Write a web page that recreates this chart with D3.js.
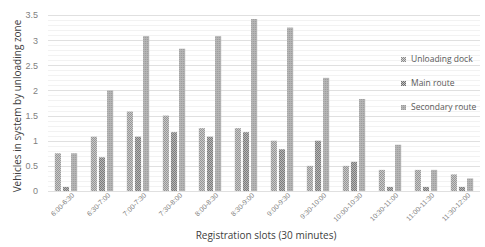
<!DOCTYPE html>
<html>
<head>
<meta charset="utf-8">
<script src="https://cdn.jsdelivr.net/npm/d3@7"></script>
<style>
  body { margin: 0; background: #fff; }
  svg { font-family: "Open Sans", "Liberation Sans", sans-serif; }
</style>
</head>
<body>
<div id="chart"></div>
<script>
(function() {
    const width = 485, height = 247;

    const slots = ["6:00-6:30", "6:30-7:00", "7:00-7:30", "7:30-8:00", "8:00-8:30", "8:30-9:00",
        "9:00-9:30", "9:30-10:00", "10:00-10:30", "10:30-11:00", "11:00-11:30", "11:30-12:00"];
    const seriesNames = ["Unloading dock", "Main route", "Secondary route"];
    const unloadingDock = [0.75, 1.08, 1.58, 1.5, 1.25, 1.25, 1.0, 0.5, 0.5, 0.42, 0.42, 0.33];
    const mainRoute = [0.08, 0.67, 1.08, 1.17, 1.08, 1.17, 0.83, 1.0, 0.58, 0.08, 0.08, 0.08];
    const secondaryRoute = [0.75, 2.0, 3.08, 2.83, 3.08, 3.42, 3.25, 2.25, 1.83, 0.92, 0.42, 0.25];
    const yTicks = [0, 0.5, 1, 1.5, 2, 2.5, 3, 3.5];

    const values = [unloadingDock, mainRoute, secondaryRoute];

    const margin = { top: 15, right: 5, bottom: 56, left: 48 };
    const innerW = width - margin.left - margin.right;
    const innerH = height - margin.top - margin.bottom;

    const svg = d3.select("#chart")
        .append("svg")
        .attr("width", width)
        .attr("height", height);

    // hatch fills, one per series
    const defs = svg.append("defs");
    const p0 = defs.append("pattern").attr("id", "pat0")
        .attr("width", 2).attr("height", 2).attr("patternUnits", "userSpaceOnUse");
    p0.append("rect").attr("width", 2).attr("height", 2).attr("fill", "#d4d4d4");
    p0.append("rect").attr("width", 1).attr("height", 1).attr("fill", "#8a8a8a");
    p0.append("rect").attr("x", 1).attr("y", 1).attr("width", 1).attr("height", 1).attr("fill", "#8a8a8a");

    const p1 = defs.append("pattern").attr("id", "pat1")
        .attr("width", 2).attr("height", 2).attr("patternUnits", "userSpaceOnUse");
    p1.append("rect").attr("width", 2).attr("height", 2).attr("fill", "#c4c4c4");
    p1.append("rect").attr("width", 1).attr("height", 1).attr("fill", "#6e6e6e");
    p1.append("rect").attr("x", 1).attr("y", 1).attr("width", 1).attr("height", 1).attr("fill", "#6e6e6e");

    const p2 = defs.append("pattern").attr("id", "pat2")
        .attr("width", 2).attr("height", 2).attr("patternUnits", "userSpaceOnUse");
    p2.append("rect").attr("width", 2).attr("height", 2).attr("fill", "#b5b5b5");
    p2.append("rect").attr("width", 1).attr("height", 1).attr("fill", "#9a9a9a");

    const g = svg.append("g").attr("transform", `translate(${margin.left},${margin.top})`);

    const x0 = d3.scaleBand().domain(slots).range([0, innerW]).paddingInner(0.38).paddingOuter(0.19);
    const x1 = d3.scaleBand().domain(d3.range(3)).range([0, x0.bandwidth()]).paddingInner(0.25);
    const y = d3.scaleLinear().domain([0, 3.5]).range([innerH, 0]);

    // minor gridlines
    g.append("g").selectAll("line")
        .data(d3.range(0, 3.5, 0.1).filter(v => Math.abs(v * 2 - Math.round(v * 2)) > 1e-6))
        .join("line")
        .attr("x1", 0).attr("x2", innerW)
        .attr("y1", d => Math.round(y(d)) + 0.5).attr("y2", d => Math.round(y(d)) + 0.5)
        .attr("stroke", "#f2f2f2");

    // major gridlines
    g.append("g").selectAll("line")
        .data(yTicks)
        .join("line")
        .attr("x1", 0).attr("x2", innerW)
        .attr("y1", d => Math.round(y(d)) + 0.5).attr("y2", d => Math.round(y(d)) + 0.5)
        .attr("stroke", "#e0e0e0");

    const yAxis = g.append("g")
        .call(d3.axisLeft(y).tickValues(yTicks).tickSize(0).tickPadding(10).tickFormat(d3.format("~g")));
    yAxis.select(".domain").remove();
    yAxis.selectAll("text").attr("fill", "#7f7f7f").style("font-size", "9px");

    const groups = g.append("g").selectAll("g")
        .data(slots)
        .join("g")
        .attr("transform", d => `translate(${x0(d)},0)`);

    groups.selectAll("rect")
        .data((d, i) => values.map((s, k) => ({ k: k, v: s[i] })))
        .join("rect")
        .attr("x", d => x1(d.k))
        .attr("width", x1.bandwidth())
        .attr("y", d => y(d.v))
        .attr("height", d => innerH - y(d.v))
        .attr("fill", d => `url(#pat${d.k})`);

    const xAxis = g.append("g")
        .attr("transform", `translate(0,${innerH})`)
        .call(d3.axisBottom(x0).tickSize(0).tickPadding(6));
    xAxis.select(".domain").remove();
    xAxis.selectAll("text")
        .attr("fill", "#7f7f7f")
        .style("font-size", "7px")
        .attr("text-anchor", "end")
        .attr("dx", "0.4em")
        .attr("dy", "0.5em")
        .attr("transform", "rotate(-45)");

    svg.append("text")
        .attr("transform", `translate(21,${margin.top + innerH / 2 + 3}) rotate(-90)`)
        .attr("text-anchor", "middle")
        .attr("fill", "#404040")
        .style("font-size", "10px")
        .text("Vehicles in system by unloading zone");

    svg.append("text")
        .attr("x", 266)
        .attr("y", 239)
        .attr("text-anchor", "middle")
        .attr("fill", "#404040")
        .style("font-size", "10px")
        .text("Registration slots (30 minutes)");

    // legend
    const legend = svg.append("g").attr("transform", "translate(401,61)");
    const items = legend.selectAll("g")
        .data(seriesNames)
        .join("g")
        .attr("transform", (d, i) => `translate(0,${i * 24})`);
    items.append("rect")
        .attr("y", -4).attr("width", 5).attr("height", 5)
        .attr("fill", (d, i) => `url(#pat${i})`);
    items.append("text")
        .attr("x", 10).attr("y", 1)
        .attr("fill", "#595959")
        .style("font-size", "8.5px")
        .text(d => d);
})();
</script>
</body>
</html>
